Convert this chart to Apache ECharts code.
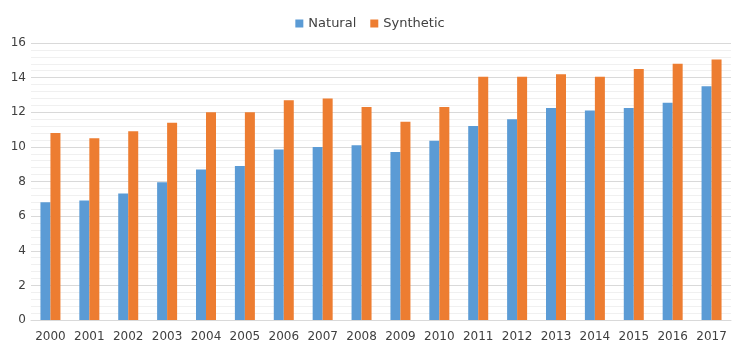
<!DOCTYPE html>
<html>
<head>
<meta charset="utf-8">
<script src="https://cdn.jsdelivr.net/npm/echarts@6/dist/echarts.min.js"></script>
<style>html,body{margin:0;padding:0;background:#fff;}#c{width:740px;height:348px;}</style>
</head>
<body>
<div id="c"></div>
<script>
const years = ['2000','2001','2002','2003','2004','2005','2006','2007','2008','2009','2010','2011','2012','2013','2014','2015','2016','2017'];
const natural = [6.8, 6.9, 7.3, 7.95, 8.7, 8.9, 9.85, 10.0, 10.1, 9.7, 10.35, 11.2, 11.6, 12.25, 12.1, 12.25, 12.55, 13.5];
const synthetic = [10.8, 10.5, 10.9, 11.4, 12.0, 12.0, 12.7, 12.8, 12.3, 11.45, 12.3, 14.05, 14.05, 14.2, 14.05, 14.5, 14.8, 15.05];

const chart = echarts.init(document.getElementById('c'), null, {renderer: 'canvas'});
const font = 'DejaVu Sans, Verdana, sans-serif';
const txt = '#404040';
chart.setOption({
  animation: false,
  textStyle: {fontFamily: font},
  legend: {
    top: 12, left: 'center',
    itemWidth: 8, itemHeight: 8, itemGap: 14,
    icon: 'rect',
    textStyle: {fontFamily: font, fontSize: 13, color: txt},
    data: ['Natural', 'Synthetic']
  },
  grid: {left: 31, right: 9, top: 43, bottom: 28, containLabel: false},
  xAxis: {
    type: 'category', data: years,
    axisLine: {lineStyle: {color: '#d9d9d9'}},
    axisTick: {show: false},
    axisLabel: {fontFamily: font, fontSize: 12, color: txt, margin: 11, interval: 0}
  },
  yAxis: {
    type: 'value', min: 0, max: 16, interval: 2,
    axisLine: {show: false}, axisTick: {show: false},
    axisLabel: {fontFamily: font, fontSize: 12, color: txt, margin: 5},
    splitLine: {lineStyle: {color: '#d9d9d9'}},
    minorTick: {show: false, splitNumber: 5},
    minorSplitLine: {show: true, lineStyle: {color: '#f0f0f0'}}
  },
  series: [
    {name: 'Natural', type: 'bar', data: natural, barWidth: 10, barGap: '0%', itemStyle: {color: '#5b9bd5'}},
    {name: 'Synthetic', type: 'bar', data: synthetic, barWidth: 10, barGap: '0%', itemStyle: {color: '#ed7d31'}}
  ]
});
</script>
</body>
</html>
